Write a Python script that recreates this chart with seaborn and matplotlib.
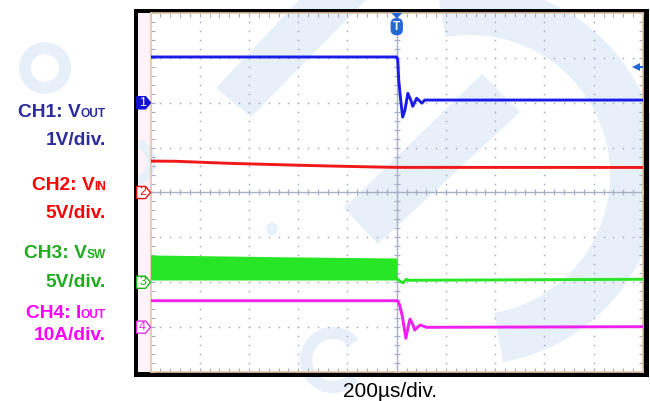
import numpy as np
import pandas as pd
import matplotlib
matplotlib.use("Agg")
import matplotlib.pyplot as plt
import seaborn as sns
from matplotlib.patches import Polygon, Rectangle, Wedge, Circle, FancyBboxPatch
from matplotlib.ticker import MultipleLocator
from matplotlib.transforms import blended_transform_factory

sns.set_theme(style="white")
plt.rcParams['font.family'] = ['Liberation Sans', 'DejaVu Sans']

# ---- scope captures: time in µs relative to the trigger ----
# CH1 VOUT, volts above the channel marker (1 V/div)
ch1_t = [-1000, 0, 4, 8, 16, 24, 33, 45, 57, 65, 73, 81, 89, 102, 114, 1000]
ch1_v = [1.02, 1.02, 0.95, 0.50, 0.06, -0.32, -0.17, 0.21, 0.06, -0.08, 0.01, 0.10, 0.06, -0.01, 0.06, 0.06]

# CH2 VIN, volts (5 V/div)
ch2_t = [-1000, -900, -680, -430, -270, -100, 0, 1000]
ch2_v = [3.50, 3.48, 3.25, 3.06, 2.95, 2.85, 2.80, 2.79]

# CH3 VSW: switching envelope before the trigger, single trace after (5 V/div)
ch3_env_t = [-1000, -500, 0]
ch3_env_hi = [3.04, 2.85, 2.70]
ch3_env_lo = [0.25, 0.25, 0.25]
ch3_t = [0, 15, 26, 39, 50, 1000]
ch3_v = [0.44, 0.06, -0.05, 0.33, 0.22, 0.33]

# CH4 IOUT, amps (10 A/div)
ch4_t = [-1000, 3, 12, 23, 37, 48, 54, 66, 73, 87, 96, 121, 1000]
ch4_i = [5.88, 5.88, 4.92, 2.32, -2.50, 0.47, 1.80, 0.47, -0.65, 0.09, 0.47, -0.04, 0.10]

# channel offsets (div) and scales (units/div)
ch_offset = {1: 2, 2: 0, 3: -2, 4: -3}
ch_scale = {1: 1, 2: 5, 3: 5, 4: 10}
trig_level = 0.80  # V on CH1

trace_col = {1: '#1c1ce8', 2: '#f01818', 3: '#26e626', 4: '#f020f0'}
label_col = {1: '#2b2b9e', 2: '#ff0000', 3: '#1faa1f', 4: '#ff00ff'}
marker_col = {1: '#1010d0', 2: '#e01010', 3: '#20b020', 4: '#e030e0'}

def to_div(ch, vals):
    return [ch_offset[ch] + v / ch_scale[ch] for v in vals]

W, H = 650, 401
fig = plt.figure(figsize=(W / 100, H / 100), dpi=100)
fig.patch.set_facecolor('white')

# full-figure layer in pixel units (y downwards) for frame and watermark
bg = fig.add_axes([0, 0, 1, 1], zorder=0)
bg.set_xlim(0, W)
bg.set_ylim(H, 0)
bg.axis('off')

WM = '#e7f0f8'
for p in [
    Wedge((45, 68), 26, 0, 360, width=12),
    Polygon([(216, 88), (251, 117), (370, -4), (303, -4)]),
    Polygon([(344, 208), (378, 244), (520, 112), (482, 74)]),
    Wedge((470, 175), 190, -100, 80, width=50),
    Wedge((333, 360), 33, 40, 320, width=12),
    Circle((272, 229), 6),
    Wedge((132, 162), 24, -70, 80, width=9),
]:
    p.set_facecolor(WM)
    p.set_edgecolor('none')
    p.set_zorder(2)
    bg.add_patch(p)

# pink strip left of the graticule
bg.add_patch(Rectangle((137, 13), 13.5, 359, fc='#fff2f8', ec='none', zorder=1))
# black frame
for r in [(134, 9, 3.5, 368), (134, 9, 514, 4), (643, 9, 5.5, 368), (134, 372, 514, 5)]:
    bg.add_patch(Rectangle(r[:2], r[2], r[3], fc='black', ec='none', zorder=3))

# ---- scope graticule ----
ax = fig.add_axes([150.5 / W, 1 - 372 / H, 492.5 / W, 359 / H], zorder=1)
ax.patch.set_alpha(0)
ax.set_xlim(-1000, 1000)
ax.set_ylim(-4, 4)
ax.set_xticks([])
ax.set_yticks([])
ax.xaxis.set_minor_locator(MultipleLocator(40))
ax.yaxis.set_minor_locator(MultipleLocator(0.2))
ax.tick_params(which='minor', direction='in', length=3, width=0.8, color='#a4abc2',
               top=True, bottom=True, left=True, right=True)
ax.set_xticklabels([], minor=True)
ax.set_yticklabels([], minor=True)
for s in ax.spines.values():
    s.set_color('#e4c4a6')
    s.set_linewidth(1.2)

grid_col = '#9aa1b8'
dots_y = np.arange(-4, 4.01, 0.2)
dots_x = np.arange(-1000, 1001, 40)
for gx in [-800, -600, -400, -200, 200, 400, 600, 800]:
    ax.plot([gx] * len(dots_y), dots_y, ls='none', marker='s', ms=1.0, mew=0, color=grid_col, zorder=1)
for gy in [-3, -2, -1, 1, 2, 3]:
    ax.plot(dots_x, [gy] * len(dots_x), ls='none', marker='s', ms=1.0, mew=0, color=grid_col, zorder=1)
ax.axhline(0, color='#a8b0c6', lw=1.0, zorder=1)
ax.axvline(0, color='#a8b0c6', lw=1.0, zorder=1)
ax.plot(dots_x, [0] * len(dots_x), ls='none', marker='|', ms=5, mew=0.9, color='#a8b0c6', zorder=1)
ax.plot([0] * len(dots_y), dots_y, ls='none', marker='_', ms=5, mew=0.9, color='#a8b0c6', zorder=1)

# ---- traces ----
lw = 2.1
ax.fill_between(ch3_env_t, to_div(3, ch3_env_lo), to_div(3, ch3_env_hi),
                color=trace_col[3], lw=0, zorder=3)
for ch, t, v in [(1, ch1_t, ch1_v), (2, ch2_t, ch2_v), (3, ch3_t, ch3_v), (4, ch4_t, ch4_i)]:
    df = pd.DataFrame({'t': t, 'div': to_div(ch, v)})
    sns.lineplot(data=df, x='t', y='div', ax=ax, color=trace_col[ch], lw=lw,
                 estimator=None, sort=False, zorder=4)
ax.set_xlabel('')
ax.set_ylabel('')

# channel ground markers on the left edge
tr = blended_transform_factory(ax.transAxes, ax.transData)
for ch in [1, 2, 3, 4]:
    y0 = ch_offset[ch]
    h = 0.135
    pts = [(-0.028, y0 - h), (-0.010, y0 - h), (0.0, y0), (-0.010, y0 + h), (-0.028, y0 + h)]
    filled = ch == 1
    ax.add_patch(Polygon(pts, closed=True, transform=tr, clip_on=False, zorder=5,
                         fc=marker_col[ch] if filled else 'white', ec=marker_col[ch], lw=1.0))
    ax.text(-0.016, y0, str(ch), transform=tr, ha='center', va='center', fontsize=9,
            color='white' if filled else marker_col[ch], zorder=6, clip_on=False)

# trigger position marker at the top
trig_col = '#2468d8'
tt = blended_transform_factory(ax.transData, ax.transAxes)
ax.add_patch(Polygon([(-22, 1.0), (22, 1.0), (0, 0.984)], transform=tt, clip_on=False,
                     fc=trig_col, ec='none', zorder=6))
ax.text(0, 0.962, 'T', transform=tt, ha='center', va='center', fontsize=8.5, fontweight='bold',
        color='white', zorder=7,
        bbox=dict(boxstyle='round,pad=0.22,rounding_size=0.5', fc=trig_col, ec='none'))

# trigger level arrow on the right edge
ax.plot([972, 998], [ch_offset[1] + trig_level] * 2, color=trig_col, lw=1.5, zorder=6)
ax.plot([970], [ch_offset[1] + trig_level], marker='<', ms=6, color=trig_col, mew=0, zorder=6)

# ---- channel annotations ----
renderer = fig.canvas.get_renderer()
xr = 106
big, small = 13.8, 8.6

def label(main, sub, base, color):
    s = bg.text(xr, base, sub, ha='right', va='baseline', fontsize=small,
                fontweight='bold', color=color, zorder=5)
    x0 = s.get_window_extent(renderer).x0
    xl = bg.transData.inverted().transform((x0, 0))[0]
    bg.text(xl, base, main, ha='right', va='baseline', fontsize=big,
            fontweight='bold', color=color, zorder=5)

def plain(txt, base, color):
    bg.text(xr, base, txt, ha='right', va='baseline', fontsize=big,
            fontweight='bold', color=color, zorder=5)

label('CH1: V', 'OUT', 117, label_col[1])
plain('1V/div.', 145, label_col[1])
label('CH2: V', 'IN', 190, label_col[2])
plain('5V/div.', 218, label_col[2])
label('CH3: V', 'SW', 258, label_col[3])
plain('5V/div.', 287, label_col[3])
label('CH4: I', 'OUT', 318, label_col[4])
plain('10A/div.', 340, label_col[4])

bg.text(390, 397, '200µs/div.', ha='center', va='baseline', fontsize=15, color='black', zorder=5)

fig.savefig('out.png', dpi=100)
